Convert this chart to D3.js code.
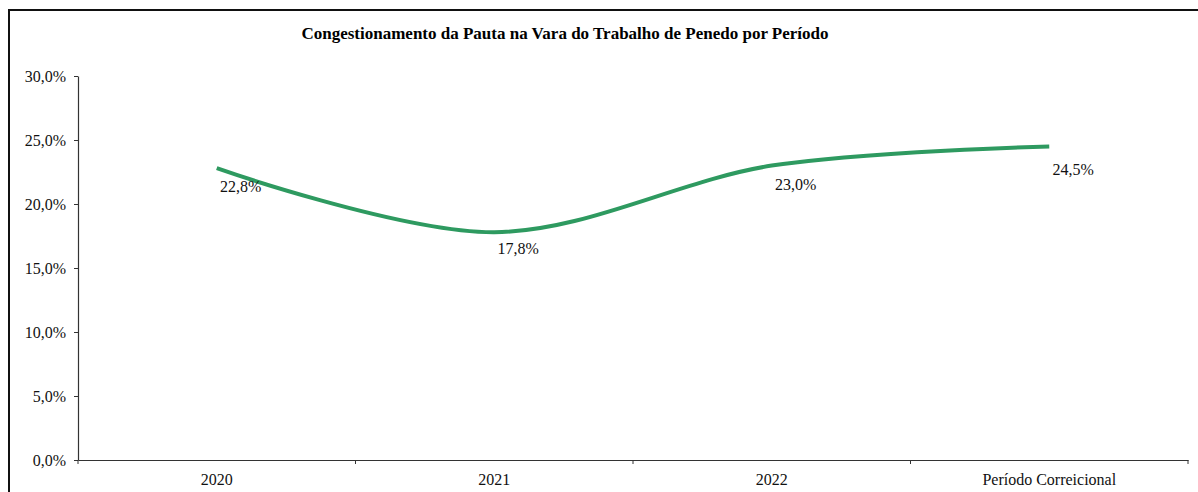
<!DOCTYPE html>
<html>
<head>
<meta charset="utf-8">
<script src="https://cdn.jsdelivr.net/npm/d3@7"></script>
<style>
  body { margin: 0; background: #fff; }
  svg { display: block; font-family: "Liberation Serif", "Times New Roman", serif; }
</style>
</head>
<body>
<svg id="chart"></svg>
<script>
var periods = ['2020', '2021', '2022', 'Período Correicional'];
var rates = [22.8, 17.8, 23.0, 24.5];
var yTicks = [0, 5, 10, 15, 20, 25, 30];

var width = 1198;
var height = 492;
var plotLeft = 78, plotRight = 1188, plotTop = 76, plotBottom = 460;

var svg = d3.select('#chart')
  .attr('width', width)
  .attr('height', height);

// outer frame (runs past the window on the right and bottom)
svg.append('path')
  .attr('d', 'M9,' + (height + 10) + 'V10H' + (width + 10))
  .attr('fill', 'none')
  .attr('stroke', '#111')
  .attr('stroke-width', 2);

var xScale = d3.scaleBand()
  .domain(periods)
  .range([plotLeft, plotRight])
  .padding(0);

var yScale = d3.scaleLinear()
  .domain([0, 30])
  .range([plotBottom, plotTop]);

var fmt = function (v) { return v.toFixed(1).replace('.', ',') + '%'; };

var yAxis = d3.axisLeft(yScale)
  .tickValues(yTicks)
  .tickSize(4)
  .tickSizeOuter(0)
  .tickPadding(8)
  .tickFormat(fmt);

var gy = svg.append('g')
  .attr('transform', 'translate(' + plotLeft + ',0)')
  .call(yAxis);

// x axis: ticks on category boundaries, labels in band centres
var xAxis = d3.axisBottom(xScale)
  .tickSize(0)
  .tickSizeOuter(0)
  .tickPadding(14);

var gx = svg.append('g')
  .attr('transform', 'translate(0,' + plotBottom + ')')
  .call(xAxis);

var bounds = periods.map(function (p) { return xScale(p); }).concat([plotRight]);
gx.selectAll('line.bound')
  .data(bounds)
  .enter()
  .append('line')
  .attr('class', 'bound')
  .attr('x1', function (d) { return d; })
  .attr('x2', function (d) { return d; })
  .attr('y1', 0)
  .attr('y2', 4)
  .attr('stroke', '#333');

[gx, gy].forEach(function (g) {
  g.select('.domain').attr('stroke', '#333').attr('stroke-width', 1.2);
  g.selectAll('.tick line').attr('stroke', '#333');
  g.selectAll('.tick text')
    .attr('fill', '#111')
    .style('font-family', '"Liberation Serif", "Times New Roman", serif')
    .style('font-size', '16px');
});

var cx = function (p) { return xScale(p) + xScale.bandwidth() / 2; };

var line = d3.line()
  .x(function (d, i) { return cx(periods[i]); })
  .y(function (d) { return yScale(d); })
  .curve(d3.curveCardinal.tension(0));

svg.append('path')
  .datum(rates)
  .attr('d', line)
  .attr('fill', 'none')
  .attr('stroke', '#2e9a60')
  .attr('stroke-width', 4)
  .attr('stroke-linecap', 'butt');

// value labels sit below and right of each point
var labelDy = [24, 22, 24, 29];
svg.selectAll('text.value')
  .data(rates)
  .enter()
  .append('text')
  .attr('class', 'value')
  .attr('x', function (d, i) { return cx(periods[i]) + 24; })
  .attr('y', function (d, i) { return yScale(d) + labelDy[i]; })
  .style('text-anchor', 'middle')
  .style('font-size', '16px')
  .attr('fill', '#111')
  .text(fmt);

svg.append('text')
  .attr('x', 565)
  .attr('y', 39)
  .style('text-anchor', 'middle')
  .style('font-size', '17px')
  .style('font-weight', 'bold')
  .attr('fill', '#000')
  .text('Congestionamento da Pauta na Vara do Trabalho de Penedo por Período');
</script>
</body>
</html>
